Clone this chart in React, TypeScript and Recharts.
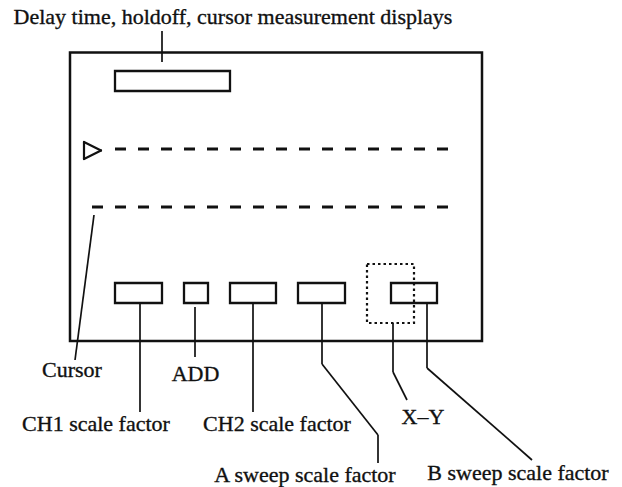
import React from 'react';
import { ComposedChart, XAxis, YAxis, Scatter, ReferenceArea, ReferenceLine } from 'recharts';

// diagram units = pixels of the original figure (y grows downward)
const frame = { x1: 70, x2: 482, y1: 52.5, y2: 341 };

const readoutBoxes = [
  { id: 'delay', x1: 115, x2: 230, y1: 71, y2: 91 },
  { id: 'ch1', x1: 115, x2: 162, y1: 283, y2: 303 },
  { id: 'add', x1: 184, x2: 208, y1: 283, y2: 303 },
  { id: 'ch2', x1: 230, x2: 276, y1: 283, y2: 303 },
  { id: 'asweep', x1: 298, x2: 345, y1: 283, y2: 303 },
  { id: 'bsweep', x1: 391, x2: 437, y1: 283, y2: 303 },
];

const xyBox = { x1: 367, x2: 414, y1: 264, y2: 323 };

const traces = [
  { id: 'trace', x1: 115, x2: 448, y: 149 },
  { id: 'cursor', x1: 92, x2: 448, y: 207 },
];

const marker = [
  { x: 84, y: 142 },
  { x: 101, y: 150.5 },
  { x: 84, y: 159 },
  { x: 84, y: 142 },
];

const leaders = [
  [{ x: 162, y: 31 }, { x: 162, y: 62 }],
  [{ x: 94, y: 215 }, { x: 75, y: 360 }],
  [{ x: 140, y: 303 }, { x: 140, y: 412 }],
  [{ x: 195, y: 307 }, { x: 195, y: 357 }],
  [{ x: 253, y: 303 }, { x: 253, y: 412 }],
  [{ x: 322, y: 303 }, { x: 322, y: 364 }, { x: 378, y: 435 }, { x: 378, y: 463 }],
  [{ x: 393, y: 323 }, { x: 393, y: 372 }, { x: 407, y: 400 }],
  [{ x: 427, y: 303 }, { x: 427, y: 368 }, { x: 532, y: 460 }],
];

const labels = [
  { x: 233, y: 24, text: 'Delay time, holdoff, cursor measurement displays' },
  { x: 72, y: 377, text: 'Cursor' },
  { x: 195.5, y: 381, text: 'ADD' },
  { x: 96, y: 431, text: 'CH1 scale factor' },
  { x: 277, y: 431, text: 'CH2 scale factor' },
  { x: 423, y: 424, text: 'X\u2013Y' },
  { x: 305, y: 482, text: 'A sweep scale factor' },
  { x: 518, y: 480, text: 'B sweep scale factor' },
];

const INK = '#111';

const LabelShape = (props: any) => {
  const { cx, cy, payload } = props;
  return (
    <text
      x={cx}
      y={cy}
      textAnchor="middle"
      fill={INK}
      stroke={INK}
      strokeWidth={0.35}
      fontSize={22}
      fontFamily="'Liberation Serif', 'Times New Roman', serif"
    >
      {payload.text}
    </text>
  );
};

export default function App() {
  const segments: { a: { x: number; y: number }; b: { x: number; y: number } }[] = [];
  leaders.forEach((path) => {
    for (let i = 0; i < path.length - 1; i++) segments.push({ a: path[i], b: path[i + 1] });
  });
  const markerSegs = marker.slice(0, -1).map((p, i) => ({ a: p, b: marker[i + 1] }));

  return (
    <div style={{ position: 'absolute', left: 0, top: 0, width: 622, height: 487, background: '#fff' }}>
      <ComposedChart width={622} height={487} margin={{ top: 0, right: 0, bottom: 0, left: 0 }}>
        <XAxis type="number" dataKey="x" domain={[0, 622]} allowDataOverflow hide />
        <YAxis type="number" dataKey="y" domain={[0, 487]} reversed allowDataOverflow hide />

        <ReferenceArea
          x1={frame.x1}
          x2={frame.x2}
          y1={frame.y1}
          y2={frame.y2}
          fill="none"
          fillOpacity={0}
          stroke={INK}
          strokeWidth={2.5}
        />

        {readoutBoxes.map((b) => (
          <ReferenceArea
            key={b.id}
            x1={b.x1}
            x2={b.x2}
            y1={b.y1}
            y2={b.y2}
            fill="none"
            fillOpacity={0}
            stroke={INK}
            strokeWidth={2.3}
          />
        ))}

        <ReferenceArea
          x1={xyBox.x1}
          x2={xyBox.x2}
          y1={xyBox.y1}
          y2={xyBox.y2}
          fill="none"
          fillOpacity={0}
          stroke={INK}
          strokeWidth={2.2}
          strokeDasharray="2.5 3"
        />

        {traces.map((t) => (
          <ReferenceLine
            key={t.id}
            segment={[{ x: t.x1, y: t.y }, { x: t.x2, y: t.y }]}
            stroke={INK}
            strokeWidth={3}
            strokeDasharray="11 12"
          />
        ))}

        {markerSegs.map((s, i) => (
          <ReferenceLine
            key={'m' + i}
            segment={[s.a, s.b]}
            stroke={INK}
            strokeWidth={2.2}
            strokeLinecap="round"
          />
        ))}

        {segments.map((s, i) => (
          <ReferenceLine key={'l' + i} segment={[s.a, s.b]} stroke={INK} strokeWidth={1.7} />
        ))}

        <Scatter data={labels} shape={LabelShape} isAnimationActive={false} />
      </ComposedChart>
    </div>
  );
}
